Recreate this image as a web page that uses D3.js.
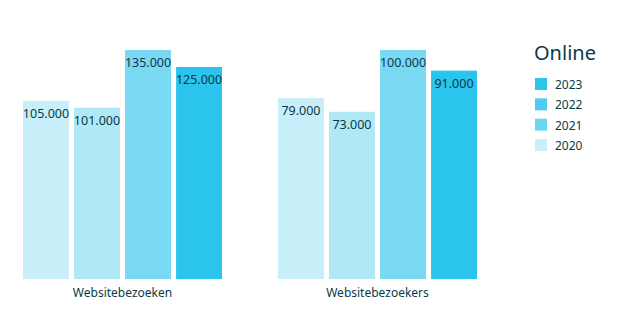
<!DOCTYPE html>
<html lang="nl">
<head>
  <meta charset="utf-8">
  <script src="https://d3js.org/d3.v7.min.js"></script>
  <style>
    body { margin: 0; background: #fff; }
    svg text { font-family: "Noto Sans", "Open Sans", sans-serif; fill: #0b3a47; }
  </style>
</head>
<body>
  <svg id="chart"></svg>
  <script>
    // data
    var categories = ['Websitebezoeken', 'Websitebezoekers'];
    var years = ['2020', '2021', '2022', '2023'];
    var values = {
      'Websitebezoeken': [105000, 101000, 135000, 125000],
      'Websitebezoekers': [79000, 73000, 100000, 91000]
    };
    var barColors = ['#c8eef9', '#b0e8f6', '#79d9f3', '#2bc4ec'];
    var legendYears = ['2023', '2022', '2021', '2020'];
    var legendColors = ['#2bc4ec', '#4fcdf0', '#6bd5f2', '#c8eef9'];
    var legendTitle = 'Online';

    var width = 621, height = 333;
    var plotBottom = 279, plotTop = 50;

    var svg = d3.select('#chart')
      .attr('width', width)
      .attr('height', height);

    // group positions
    var groupX = d3.scalePoint().domain(categories).range([23, 278]);
    var x1 = d3.scaleBand()
      .domain(years)
      .range([0, 199])
      .paddingInner(0.1);

    var fmt = function (v) { return d3.format(',')(v).replace(/,/g, '.'); };

    categories.forEach(function (cat) {
      var vals = values[cat];
      // every group is scaled on its own maximum
      var y = d3.scaleLinear()
        .domain([0, d3.max(vals)])
        .range([plotBottom, plotTop]);

      var g = svg.append('g')
        .attr('transform', 'translate(' + groupX(cat) + ',0)');

      g.selectAll('rect')
        .data(vals)
        .enter().append('rect')
        .attr('x', function (d, i) { return x1(years[i]); })
        .attr('y', function (d) { return y(d); })
        .attr('width', x1.bandwidth())
        .attr('height', function (d) { return plotBottom - y(d); })
        .attr('fill', function (d, i) { return barColors[i]; });

      g.selectAll('text.val')
        .data(vals)
        .enter().append('text')
        .attr('class', 'val')
        .attr('x', function (d, i) { return x1(years[i]) + x1.bandwidth() / 2; })
        .attr('y', function (d) { return y(d) + 17; })
        .attr('text-anchor', 'middle')
        .attr('font-size', 12.5)
        .text(fmt);

      g.append('text')
        .attr('x', 199 / 2)
        .attr('y', 297)
        .attr('text-anchor', 'middle')
        .attr('font-size', 12)
        .text(cat);
    });

    // legend
    var lg = svg.append('g');
    lg.append('text')
      .attr('x', 534)
      .attr('y', 60)
      .attr('font-size', 20)
      .text(legendTitle);

    var ly = d3.scalePoint().domain(legendYears).range([78, 139]);
    lg.selectAll('rect')
      .data(legendYears)
      .enter().append('rect')
      .attr('x', 535)
      .attr('y', function (d) { return ly(d); })
      .attr('width', 12)
      .attr('height', 12)
      .attr('fill', function (d, i) { return legendColors[i]; });
    lg.selectAll('text.ly')
      .data(legendYears)
      .enter().append('text')
      .attr('class', 'ly')
      .attr('x', 555)
      .attr('y', function (d) { return ly(d) + 11; })
      .attr('font-size', 12)
      .text(function (d) { return d; });
  </script>
</body>
</html>
